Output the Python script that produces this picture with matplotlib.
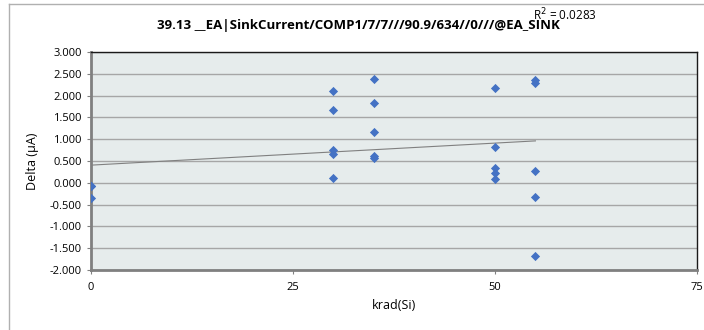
import matplotlib.pyplot as plt
import numpy as np
from matplotlib.lines import Line2D

# Data (three points at 0 krad, two of them overlap)
krad = [0, 0, 0,
        30, 30, 30, 30, 30,
        35, 35, 35, 35, 35,
        50, 50, 50, 50, 50,
        55, 55, 55, 55, 55]
delta = [-0.08, -0.08, -0.35,
         2.11, 1.68, 0.75, 0.65, 0.11,
         2.37, 1.84, 1.17, 0.62, 0.57,
         2.17, 0.81, 0.35, 0.22, 0.09,
         2.35, 2.28, 0.28, -0.32, -1.68]
r2_text = "R$^2$ = 0.0283"
title = "39.13 __EA|SinkCurrent/COMP1/7/7///90.9/634//0///@EA_SINK"
x_ticks = [0, 25, 50, 75]
y_ticks = [-2.0, -1.5, -1.0, -0.5, 0.0, 0.5, 1.0, 1.5, 2.0, 2.5, 3.0]

plt.rcParams['font.family'] = ['Open Sans', 'DejaVu Sans']

fig = plt.figure(figsize=(7.04, 3.30), dpi=100)
ax = fig.add_axes([91 / 704, 1 - 270 / 330, (697 - 91) / 704, (270 - 52) / 330])
ax.set_facecolor('#e6ecec')

# outer chart border
fig.add_artist(Line2D([9 / 704, 9 / 704], [0, 1 - 4 / 330], color='#b0b0b0', lw=1))
fig.add_artist(Line2D([9 / 704, 1], [1 - 4 / 330, 1 - 4 / 330], color='#b0b0b0', lw=1))

# gridlines
for yv in y_ticks:
    ax.axhline(yv, color='#a6a6a6', lw=1, zorder=1)

ax.scatter(krad, delta, marker='D', s=22, color='#4472c4', zorder=3, linewidths=0)

# linear trend line
slope, intercept = np.polyfit(krad, delta, 1)
xs = np.array([min(krad), max(krad)])
ax.plot(xs, slope * xs + intercept, color='#808080', lw=0.8, zorder=2)

ax.set_xlim(0, 75)
ax.set_ylim(-2, 3)
ax.set_xticks(x_ticks)
ax.set_yticks(y_ticks)
ax.set_yticklabels(['%.3f' % v for v in y_ticks])
ax.tick_params(labelsize=8, length=3, color='#808080')
ax.tick_params(axis='x', pad=6)

for side in ['left', 'bottom']:
    ax.spines[side].set_color('#808080')
    ax.spines[side].set_linewidth(2)
for side in ['top', 'right']:
    ax.spines[side].set_color('#1a1a1a')
    ax.spines[side].set_linewidth(1)

ax.set_xlabel('krad(Si)', fontsize=9, labelpad=4)
ax.set_ylabel('Delta (µA)', fontsize=9, labelpad=8)

fig.text(358 / 704, 1 - 25 / 330, title, ha='center', va='center',
         fontsize=9.5, fontweight='bold')
fig.text(533 / 704, 1 - 15 / 330, r2_text, ha='left', va='center', fontsize=8.5)

fig.savefig('out.png', dpi=100)
